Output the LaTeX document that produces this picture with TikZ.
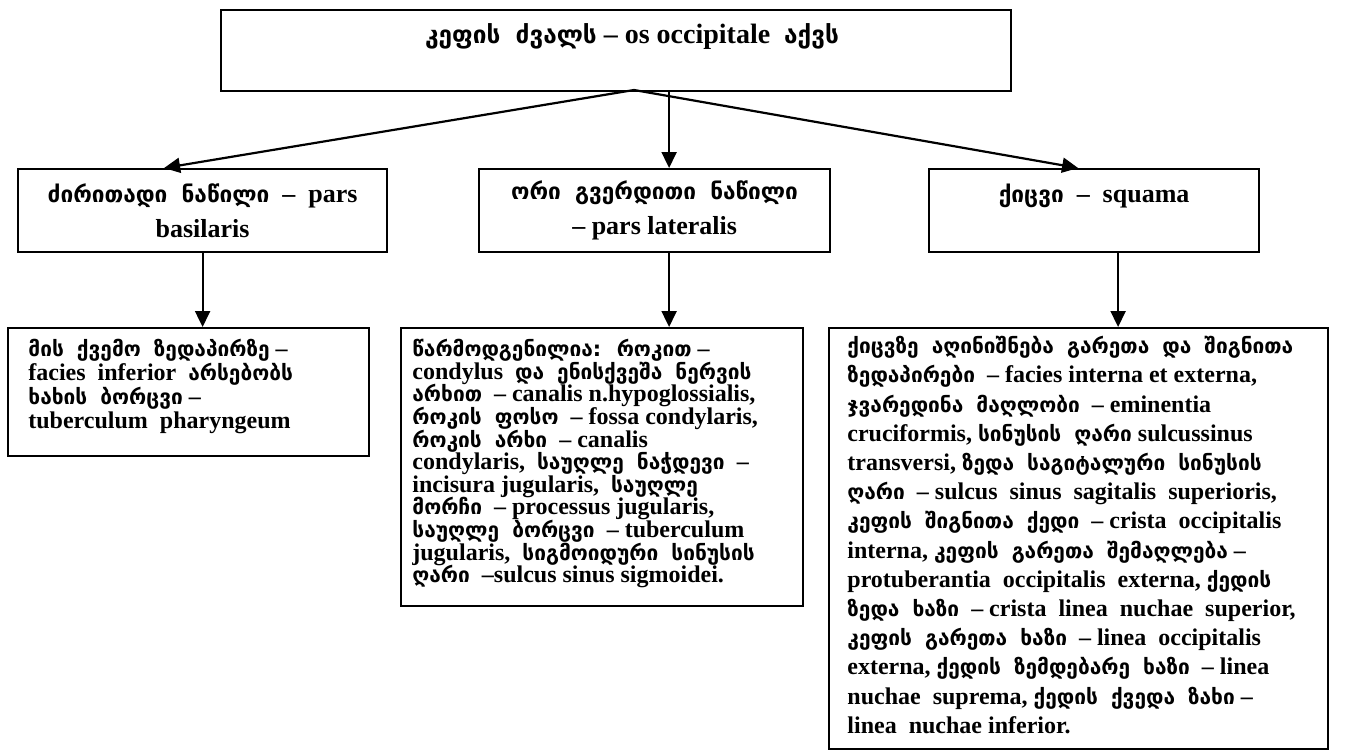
\documentclass[tikz,border=0pt]{standalone}
\usepackage{fontspec}
\setmainfont{Liberation Serif}
\newfontfamily\kafont[Scale=0.87,WordSpace=1.8]{DejaVu Sans}
\newcommand\geo[1]{{\kafont #1}}
\setlength\lineskiplimit{-\maxdimen}
\usetikzlibrary{arrows.meta,calc}

\begin{document}
\begin{tikzpicture}[x=0.5pt,y=-0.5pt,
		box/.style={draw,line width=1.1pt,anchor=north west,inner sep=0pt},
		head/.style={font=\bfseries\fontsize{13}{17.5}\selectfont,align=center,inner sep=0pt},
		txt/.style={font=\bfseries\fontsize{12}{12}\selectfont,align=left,anchor=north west,inner sep=0pt,execute at begin node=\strut},
		arr/.style={line width=1.1pt,-{Triangle[length=8pt,width=7.5pt]}}]
	\useasboundingbox (0,0) rectangle (1352,755);
	% boxes
	\node[box,minimum width=395pt,minimum height=40.5pt] (os) at (220,9) {};
	\node[box,minimum width=184.5pt,minimum height=41.5pt] (basis) at (17,168) {};
	\node[box,minimum width=175.5pt,minimum height=41.5pt] (lat) at (478,168) {};
	\node[box,minimum width=165pt,minimum height=41.5pt] (squama) at (928,168) {};
	\node[box,minimum width=180.5pt,minimum height=64pt] (basisinfo) at (7,327) {};
	\node[box,minimum width=201pt,minimum height=139pt] (latinfo) at (400,327) {};
	\node[box,minimum width=249.5pt,minimum height=210.5pt] (squamainfo) at (828,327) {};
	% headings
	\node[head,font=\bfseries\fontsize{14}{17.5}\selectfont,anchor=base] (ostxt) at (632,43) {\geo{კეფის ძვალს} – os occipitale~~\geo{აქვს}};
	\node[head] (basistxt) at (basis.center) {\geo{ძირითადი ნაწილი} ~–~ pars\\basilaris};
	\node[head] (lattxt) at (lat.center) {\geo{ორი გვერდითი ნაწილი}\\– pars lateralis};
	\node[head,anchor=base] (squamatxt) at ($(squama.north)+(0,34)$) {\geo{ქიცვი} ~–~ squama};
	% texts
	\node[txt] (basisinfotxt) at (28,339) {\geo{მის ქვემო ზედაპირზე} –\\
		facies~ inferior~ \geo{არსებობს}\\
		\geo{ხახის ბორცვი} –\\
		tuberculum~ pharyngeum};
	\node[txt,font=\bfseries\fontsize{12}{11.3}\selectfont] (latinfotxt) at (412,339) {\geo{წარმოდგენილია: როკით} –\\
		condylus~ \geo{და ენისქვეშა ნერვის}\\
		\geo{არხით} ~– canalis n.hypoglossialis,\\
		\geo{როკის ფოსო} ~– fossa condylaris,\\
		\geo{როკის არხი} ~– canalis\\
		condylaris,~ \geo{საუღლე ნაჭდევი}~~–\\
		incisura jugularis,~ \geo{საუღლე}\\
		\geo{მორჩი} ~– processus jugularis,\\
		\geo{საუღლე ბორცვი} ~– tuberculum\\
		jugularis,~ \geo{სიგმოიდური სინუსის}\\
		\geo{ღარი} ~–sulcus sinus sigmoidei.};
	\node[txt,font=\bfseries\fontsize{12}{14.6}\selectfont] (squamainfotxt) at (847,336) {\geo{ქიცვზე აღინიშნება გარეთა და შიგნითა}\\
		\geo{ზედაპირები} ~– facies interna et externa,\\
		\geo{ჯვარედინა მაღლობი} ~– eminentia\\
		cruciformis, \geo{სინუსის ღარი} sulcussinus\\
		transversi, \geo{ზედა საგიტალური სინუსის}\\
		\geo{ღარი} ~– sulcus~ sinus~ sagitalis~ superioris,\\
		\geo{კეფის შიგნითა ქედი} ~– crista~ occipitalis\\
		interna, \geo{კეფის გარეთა შემაღლება} –\\
		protuberantia~ occipitalis~ externa, \geo{ქედის}\\
		\geo{ზედა ხაზი} ~– crista~ linea~ nuchae~ superior,\\
		\geo{კეფის გარეთა ხაზი} ~– linea~ occipitalis\\
		externa, \geo{ქედის ზემდებარე ხაზი} ~– linea\\
		nuchae~ suprema, \geo{ქედის ქვედა ზახი} –\\
		linea~ nuchae inferior.};
	% arrows
	\coordinate (fork) at (634,90);
	\coordinate (latin) at ($(lat.north)+(14.5,0)$);
	\coordinate (sqdown) at ($(squama.south)+(24,0)$);
	\draw[arr] (fork) -- ($(basis.north)+(-38.5,0)$);
	\draw[arr] (fork) -- ($(squama.north)+(-16,0)$);
	\draw[arr] (latin |- os.south) -- (latin);
	\draw[arr] (basis.south) -- (basis.south |- basisinfo.north);
	\draw[arr] (latin |- lat.south) -- (latin |- latinfo.north);
	\draw[arr] (sqdown) -- (sqdown |- squamainfo.north);
\end{tikzpicture}
\end{document}
